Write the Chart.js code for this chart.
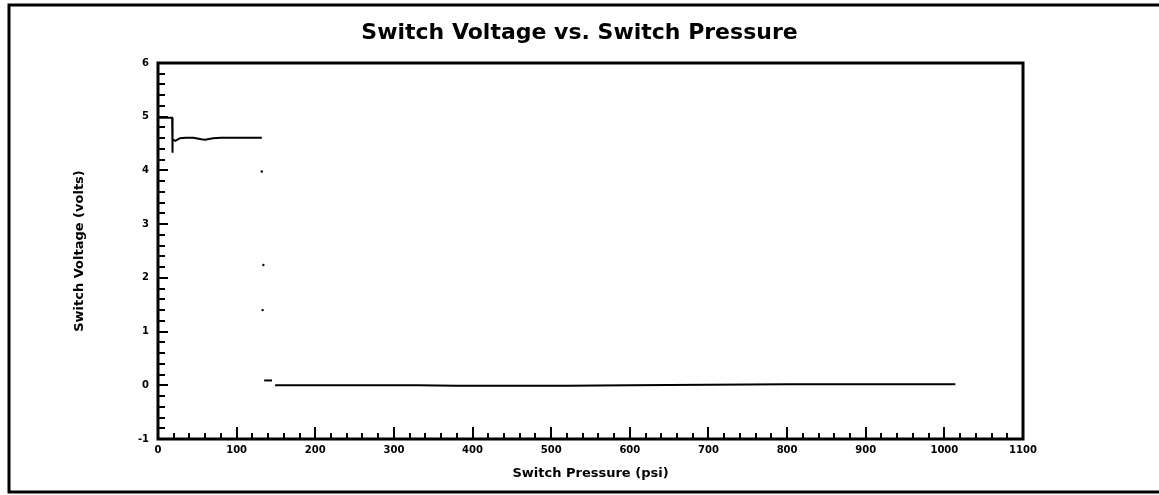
<!DOCTYPE html>
<html>
<head>
<meta charset="utf-8">
<title>Switch Voltage vs. Switch Pressure</title>
<script src="https://cdn.jsdelivr.net/npm/chart.js@4.4.1/dist/chart.umd.min.js"></script>
<style>
  html, body { margin: 0; padding: 0; background: #fff; overflow: hidden; }
  canvas { display: block; }
</style>
</head>
<body>
<canvas id="switchChart" width="1159" height="495"></canvas>
<script>
// switch closed: voltage stays high (psi / volts)
const highPressure = [0, 18, 18, 19, 22, 28, 35, 45, 55, 60, 70, 80, 90, 100, 110, 120, 132];
const highVoltage = [4.98, 4.98, 4.33, 4.58, 4.55, 4.6, 4.61, 4.61, 4.58, 4.57, 4.6, 4.61, 4.61, 4.61, 4.61, 4.61, 4.61];

// a few samples caught while the switch opens
const dropPressure = [132, 134, 133];
const dropVoltage = [3.98, 2.24, 1.4];

// switch open: voltage near zero
const blipPressure = [135, 145];
const blipVoltage = [0.09, 0.09];
const lowPressure = [149, 250, 330, 380, 450, 520, 600, 700, 800, 900, 1014];
const lowVoltage = [0.0, 0.0, 0.0, -0.01, -0.01, -0.01, 0.0, 0.01, 0.02, 0.02, 0.02];

// axes
const xMin = 0, xMax = 1100, xStep = 100, xMinor = 20;
const yMin = -1, yMax = 6, yStep = 1, yMinor = 0.2;

const fontFamily = "'DejaVu Sans', sans-serif";

function toPoints(xs, ys) {
  return xs.map((x, i) => ({ x: x, y: ys[i] }));
}

// ticks point into the plot, plus the box around it
const insideTicks = {
  id: "insideTicks",
  afterDatasetsDraw(chart) {
    const { ctx, chartArea: a, scales } = chart;
    ctx.save();
    ctx.strokeStyle = "#000";
    ctx.lineWidth = 2;
    ctx.beginPath();
    const nx = Math.round((xMax - xMin) / xMinor);
    for (let i = 0; i <= nx; i++) {
      const px = Math.round(scales.x.getPixelForValue(xMin + i * xMinor));
      const len = i % 5 === 0 ? 12 : 6;
      ctx.moveTo(px, a.bottom);
      ctx.lineTo(px, a.bottom - len);
    }
    const ny = Math.round((yMax - yMin) / yMinor);
    for (let i = 0; i <= ny; i++) {
      const py = Math.round(scales.y.getPixelForValue(yMin + i * yMinor));
      const len = i % 5 === 0 ? 10 : 7;
      ctx.moveTo(a.left, py);
      ctx.lineTo(a.left + len, py);
    }
    ctx.stroke();

    ctx.lineWidth = 3;
    ctx.strokeRect(a.left, a.top, a.right - a.left, a.bottom - a.top);
    ctx.restore();
  },
};

// outer border of the figure (right edge runs off the page)
const outerBorder = {
  id: "outerBorder",
  afterDraw(chart) {
    const ctx = chart.ctx;
    ctx.save();
    ctx.strokeStyle = "#000";
    ctx.lineWidth = 3;
    ctx.beginPath();
    ctx.moveTo(1159, 5);
    ctx.lineTo(9, 5);
    ctx.lineTo(9, 492);
    ctx.lineTo(1159, 492);
    ctx.stroke();
    ctx.restore();
  },
};

document.addEventListener("DOMContentLoaded", function () {
  const ctx = document.getElementById("switchChart");

  new Chart(ctx, {
    type: "scatter",
    data: {
      datasets: [
        {
          label: "High",
          data: toPoints(highPressure, highVoltage),
          showLine: true,
          borderColor: "#000",
          borderWidth: 2,
          pointRadius: 0,
          tension: 0,
        },
        {
          label: "Drop",
          data: toPoints(dropPressure, dropVoltage),
          showLine: false,
          backgroundColor: "#000",
          borderColor: "#000",
          pointRadius: 1.2,
          borderWidth: 0,
        },
        {
          label: "Blip",
          data: toPoints(blipPressure, blipVoltage),
          showLine: true,
          borderColor: "#000",
          borderWidth: 2,
          pointRadius: 0,
        },
        {
          label: "Low",
          data: toPoints(lowPressure, lowVoltage),
          showLine: true,
          borderColor: "#000",
          borderWidth: 2,
          pointRadius: 0,
          tension: 0,
        },
      ],
    },
    options: {
      responsive: false,
      animation: false,
      devicePixelRatio: 1,
      layout: { padding: 0 },
      plugins: {
        legend: { display: false },
        tooltip: { enabled: false },
        title: {
          display: true,
          text: "Switch Voltage vs. Switch Pressure",
          color: "#000",
          font: { family: fontFamily, size: 22, weight: "bold" },
          padding: { top: 20, bottom: 16.6 },
        },
      },
      scales: {
        x: {
          type: "linear",
          position: "bottom",
          min: xMin,
          max: xMax,
          afterFit: (s) => { s.height = 56; },
          grid: { display: false, drawTicks: false },
          border: { display: false },
          ticks: {
            stepSize: xStep,
            padding: 5,
            color: "#000",
            font: { family: fontFamily, size: 10, weight: "bold" },
            maxRotation: 0,
            callback: (v) => String(v),
          },
          title: {
            display: true,
            text: "Switch Pressure (psi)",
            color: "#000",
            font: { family: fontFamily, size: 13, weight: "bold" },
            padding: { top: 0, bottom: 14 },
          },
        },
        y: {
          type: "linear",
          position: "left",
          min: yMin,
          max: yMax,
          afterFit: (s) => { s.width = 158; },
          grid: { display: false, drawTicks: false },
          border: { display: false },
          ticks: {
            stepSize: yStep,
            padding: 9,
            color: "#000",
            font: { family: fontFamily, size: 10, weight: "bold" },
            callback: (v) => String(v),
          },
          title: {
            display: true,
            text: "Switch Voltage (volts)",
            color: "#000",
            font: { family: fontFamily, size: 13, weight: "bold" },
            padding: { top: 72, bottom: 0 },
          },
        },
        // empty axis on the right, only keeps the gap beside the plot
        y2: {
          type: "linear",
          position: "right",
          min: yMin,
          max: yMax,
          afterFit: (s) => { s.width = 136; },
          grid: { display: false, drawTicks: false },
          border: { display: false },
          ticks: { display: false },
        },
      },
    },
    plugins: [insideTicks, outerBorder],
  });
});
</script>
</body>
</html>
